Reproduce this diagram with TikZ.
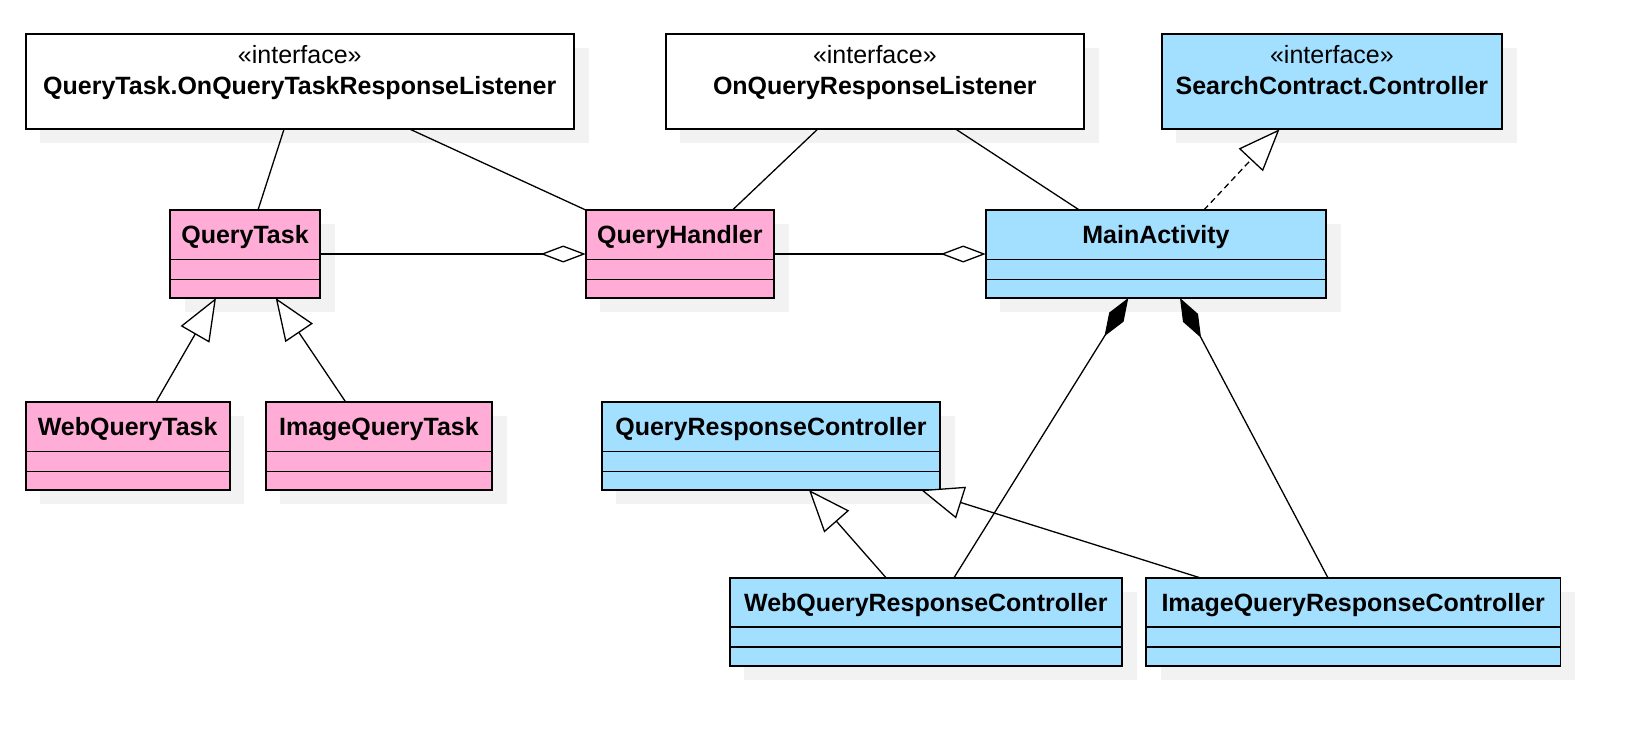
\documentclass[tikz,border=0pt]{standalone}
\usepackage{fontspec}
\setmainfont{Liberation Sans}
\usetikzlibrary{arrows.meta,calc,shadows}
\definecolor{pinkfill}{RGB}{255,172,214}
\definecolor{bluefill}{RGB}{163,223,255}
\definecolor{shadowgray}{RGB}{242,242,242}
\tikzset{
  box/.style={draw=black,line width=1.8pt,anchor=north west,inner sep=0pt,outer sep=0pt,
    drop shadow={shadow xshift=14.5pt,shadow yshift=-14pt,fill=shadowgray,opacity=1}},
  cls/.style={box,minimum height=88pt},
  iface/.style={box,minimum height=95.3pt},
  pinkcls/.style={cls,fill=pinkfill},
  bluecls/.style={cls,fill=bluefill},
  cname/.style={font=\fontsize{25}{30}\selectfont\bfseries,inner sep=0pt,anchor=base},
  stereo/.style={font=\fontsize{25}{30}\selectfont,inner sep=0pt,anchor=base},
  sepline/.style={line width=1.8pt},
  conn/.style={line width=1.3pt},
  gen/.style={conn,-{Triangle[fill=white,length=42pt,width=33pt]}},
  real/.style={gen,dash pattern=on 6pt off 4pt},
  agg/.style={conn,-{Diamond[fill=white,length=45pt,width=17pt]}},
  comp/.style={conn,-{Diamond[fill=black,length=45pt,width=17pt]}},
}
\newcommand{\seps}[1]{%
  \draw[sepline] ($(#1.north west)+(0,49.5)$) -- ($(#1.north east)+(0,49.5)$);
  \draw[sepline] ($(#1.north west)+(0,69.5)$) -- ($(#1.north east)+(0,69.5)$);}
\begin{document}
\begin{tikzpicture}[x=1pt,y=-1pt]
\useasboundingbox (0,0) rectangle (1634,732);
% interfaces
\node[iface,fill=white,minimum width=548.4pt] (QTL) at (25.6,34) {};
\node[iface,fill=white,minimum width=418.3pt] (ORL) at (665.7,34) {};
\node[iface,fill=bluefill,minimum width=340.6pt] (SCC) at (1161.6,34) {};
\node[stereo] at ($(QTL.north)+(0,29.3)$) {«interface»};
\node[cname] at ($(QTL.north)+(0,60)$) {QueryTask.OnQueryTaskResponseListener};
\node[stereo] at ($(ORL.north)+(0,29.3)$) {«interface»};
\node[cname] at ($(ORL.north)+(0,60)$) {OnQueryResponseListener};
\node[stereo] at ($(SCC.north)+(0,29.3)$) {«interface»};
\node[cname] at ($(SCC.north)+(0,60)$) {SearchContract.Controller};
% classes
\node[pinkcls,minimum width=150pt] (QT) at (170,210) {};
\node[pinkcls,minimum width=188.3pt] (QH) at (585.7,210) {};
\node[bluecls,minimum width=340.5pt] (MA) at (985.7,210) {};
\node[pinkcls,minimum width=203.9pt] (WQT) at (25.7,402) {};
\node[pinkcls,minimum width=226.4pt] (IQT) at (265.7,402) {};
\node[bluecls,minimum width=338.2pt] (QRC) at (601.8,402) {};
\node[bluecls,minimum width=392.5pt] (WQRC) at (729.6,577.7) {};
\node[bluecls,minimum width=414.5pt] (IQRC) at (1146,577.7) {};
\seps{QT}\seps{QH}\seps{MA}\seps{WQT}\seps{IQT}\seps{QRC}\seps{WQRC}\seps{IQRC}
\node[cname] at ($(QT.north)+(0,33.3)$) {QueryTask};
\node[cname] at ($(QH.north)+(0,33.3)$) {QueryHandler};
\node[cname] at ($(MA.north)+(0,33.3)$) {MainActivity};
\node[cname] at ($(WQT.north)+(0,33.3)$) {WebQueryTask};
\node[cname] at ($(IQT.north)+(0,33.3)$) {ImageQueryTask};
\node[cname] at ($(QRC.north)+(0,33.3)$) {QueryResponseController};
\node[cname] at ($(WQRC.north)+(0,33.3)$) {WebQueryResponseController};
\node[cname] at ($(IQRC.north)+(0,33.3)$) {ImageQueryResponseController};
% connectors
\draw[conn] ($(QTL.south west)+(258.4,0)$) -- ($(QT.north west)+(88,0)$);
\draw[conn] ($(QTL.south west)+(384.6,0)$) -- (QH.north west);
\draw[agg] (QT.east) -- (QH.west |- QT.east);
\draw[conn] ($(ORL.south west)+(151.8,0)$) -- ($(QH.north west)+(146.8,0)$);
\draw[conn] ($(ORL.south west)+(290.3,0)$) -- ($(MA.north west)+(93.6,0)$);
\draw[agg] (QH.east) -- (MA.west |- QH.east);
\draw[real] ($(MA.north west)+(218.2,0)$) -- ($(SCC.south west)+(117.9,0)$);
\draw[gen] ($(WQT.north west)+(130.3,0)$) -- ($(QT.south west)+(46,0)$);
\draw[gen] ($(IQT.north west)+(80,0)$) -- ($(QT.south west)+(105.7,0)$);
\draw[gen] ($(WQRC.north west)+(156.4,0)$) -- ($(QRC.south west)+(207.2,0)$);
\draw[gen] ($(IQRC.north west)+(53.8,0)$) -- ($(QRC.south west)+(319.2,0)$);
\draw[comp] ($(WQRC.north west)+(224.4,0)$) -- ($(MA.south west)+(142.6,0)$);
\draw[comp] ($(IQRC.north west)+(181.9,0)$) -- ($(MA.south west)+(194.3,0)$);
\end{tikzpicture}
\end{document}
